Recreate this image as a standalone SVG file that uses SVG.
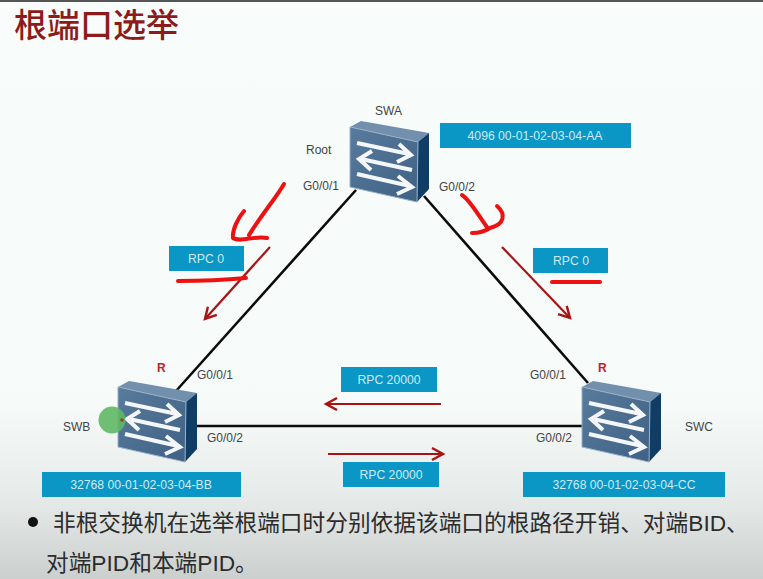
<svg xmlns="http://www.w3.org/2000/svg" width="763" height="579" viewBox="0 0 763 579">
<style>
.l{font-family:"Liberation Sans",Arial,sans-serif;font-size:12px;fill:#444}
.b{font-family:"Liberation Sans",Arial,sans-serif;font-size:12.2px;fill:#cfeaf3;text-anchor:middle}
.box{fill:#0a97c6}
.cn{font-family:"Liberation Sans","Noto Sans CJK SC",sans-serif;font-size:22.7px;fill:#2c2c2c}
.r{font-family:"Liberation Sans",Arial,sans-serif;font-size:12px;font-weight:bold;fill:#c8201f}
.link{stroke:#0b0b0b;stroke-width:2.6;fill:none}
.da{stroke:#a81414;stroke-width:2.2;fill:none;marker-end:url(#ah)}
.ink{stroke:#ee1111;stroke-width:4;fill:none;stroke-linecap:round;stroke-linejoin:round}
.wa{stroke:#f4f7f9;stroke-width:4;fill:none}
</style>
<defs>
<linearGradient id="bg" x1="0" y1="0" x2="0" y2="1">
<stop offset="0" stop-color="#f8fcfa"/><stop offset="0.7" stop-color="#f6faf8"/><stop offset="0.86" stop-color="#e6eae9"/><stop offset="1" stop-color="#cbd0cf"/>
</linearGradient>
<linearGradient id="fr" x1="0" y1="0" x2="1" y2="1">
<stop offset="0" stop-color="#587a9c"/><stop offset="1" stop-color="#3f6184"/>
</linearGradient>
<marker id="ah" markerUnits="userSpaceOnUse" markerWidth="16" markerHeight="16" refX="12" refY="7" orient="auto">
<path d="M1 1L12 7L1 13" fill="none" stroke="#a81414" stroke-width="2.4"/>
</marker>
<g id="sw">
<path d="M350 127L361 121L429 133L418 142Z" fill="#7290ae"/>
<path d="M418 142L429 133L429 189L417 202Z" fill="#0f3d66"/>
<path d="M350 127L418 142L417 202L350 187Z" fill="url(#fr)" stroke="#9ab1c7" stroke-width="1"/>
<path class="wa" d="M357 143L409 154M399 144L411 155L397 162"/>
<path class="wa" d="M412 170L361 159M372 151L359 159L371 170"/>
<path class="wa" d="M357 174L410 186M398 176L412 187L397 194"/>
</g>
</defs>
<rect width="763" height="579" fill="url(#bg)"/>
<rect width="763" height="2" fill="#555"/>
<text x="14" y="37" font-family="'Noto Sans CJK SC',sans-serif" font-size="33" font-weight="500" fill="#8c1c1c">根端口选举</text>
<g id="connectors">
<path class="link" d="M356 190L176 391"/>
<path class="link" d="M424 196L588 383"/>
<path class="link" d="M197 426L582 426"/>
<path class="da" d="M270 247L205 319"/>
<path class="da" d="M502 247L570 318"/>
<path class="da" d="M441 404L326 404"/>
<path class="da" d="M328 454L443 454"/>
</g>
<g id="SWA"><use href="#sw"/><text class="l" x="375" y="115">SWA</text><text class="l" x="306" y="154">Root</text><text class="l" x="303" y="190">G0/0/1</text><text class="l" x="439" y="191">G0/0/2</text></g>
<g id="SWB"><use href="#sw" x="-232" y="260"/><circle cx="112" cy="420" r="13.5" fill="#5fb865" fill-opacity="0.9"/><circle cx="122" cy="420" r="1.8" fill="#8a4a20"/><text class="l" x="63" y="431">SWB</text><text class="r" x="157" y="372">R</text><text class="l" x="197" y="379">G0/0/1</text><text class="l" x="207" y="442">G0/0/2</text></g>
<g id="SWC"><use href="#sw" x="232" y="260"/><text class="l" x="685" y="431">SWC</text><text class="r" x="598" y="372">R</text><text class="l" x="530" y="379">G0/0/1</text><text class="l" x="536" y="442">G0/0/2</text></g>
<g id="label-a"><rect class="box" x="440" y="123" width="191" height="25"/><text class="b" x="535" y="140">4096 00-01-02-03-04-AA</text></g>
<g id="label-b"><rect class="box" x="42" y="472" width="199" height="25"/><text class="b" x="141" y="489">32768 00-01-02-03-04-BB</text></g>
<g id="label-c"><rect class="box" x="523" y="472" width="202" height="25"/><text class="b" x="624" y="489">32768 00-01-02-03-04-CC</text></g>
<g id="rpc-ab"><rect class="box" x="169" y="246" width="75" height="25"/><text class="b" x="206" y="263">RPC 0</text></g>
<g id="rpc-ac"><rect class="box" x="533" y="248" width="75" height="25"/><text class="b" x="571" y="265">RPC 0</text></g>
<g id="rpc-cb"><rect class="box" x="341" y="367" width="96" height="25"/><text class="b" x="389" y="384">RPC 20000</text></g>
<g id="rpc-bc"><rect class="box" x="343" y="462" width="96" height="25"/><text class="b" x="391" y="479">RPC 20000</text></g>
<g id="ink">
<path class="ink" d="M284 184C276 198 262 214 249 235M244 211C238 218 232 230 233 238C240 243 255 235 267 238"/>
<path class="ink" d="M178 281C200 281 225 280 246 278"/>
<path class="ink" d="M462 195C470 200 478 215 487 227M497 206C506 214 505 224 490 228C484 232 476 233 472 233"/>
<path class="ink" d="M552 282C570 282 585 282 600 282"/>
</g>
<circle cx="33" cy="522" r="5" fill="#111"/>
<text class="cn" x="53" y="531">非根交换机在选举根端口时分别依据该端口的根路径开销、对端BID、</text>
<text class="cn" x="46" y="571">对端PID和本端PID。</text>
</svg>
